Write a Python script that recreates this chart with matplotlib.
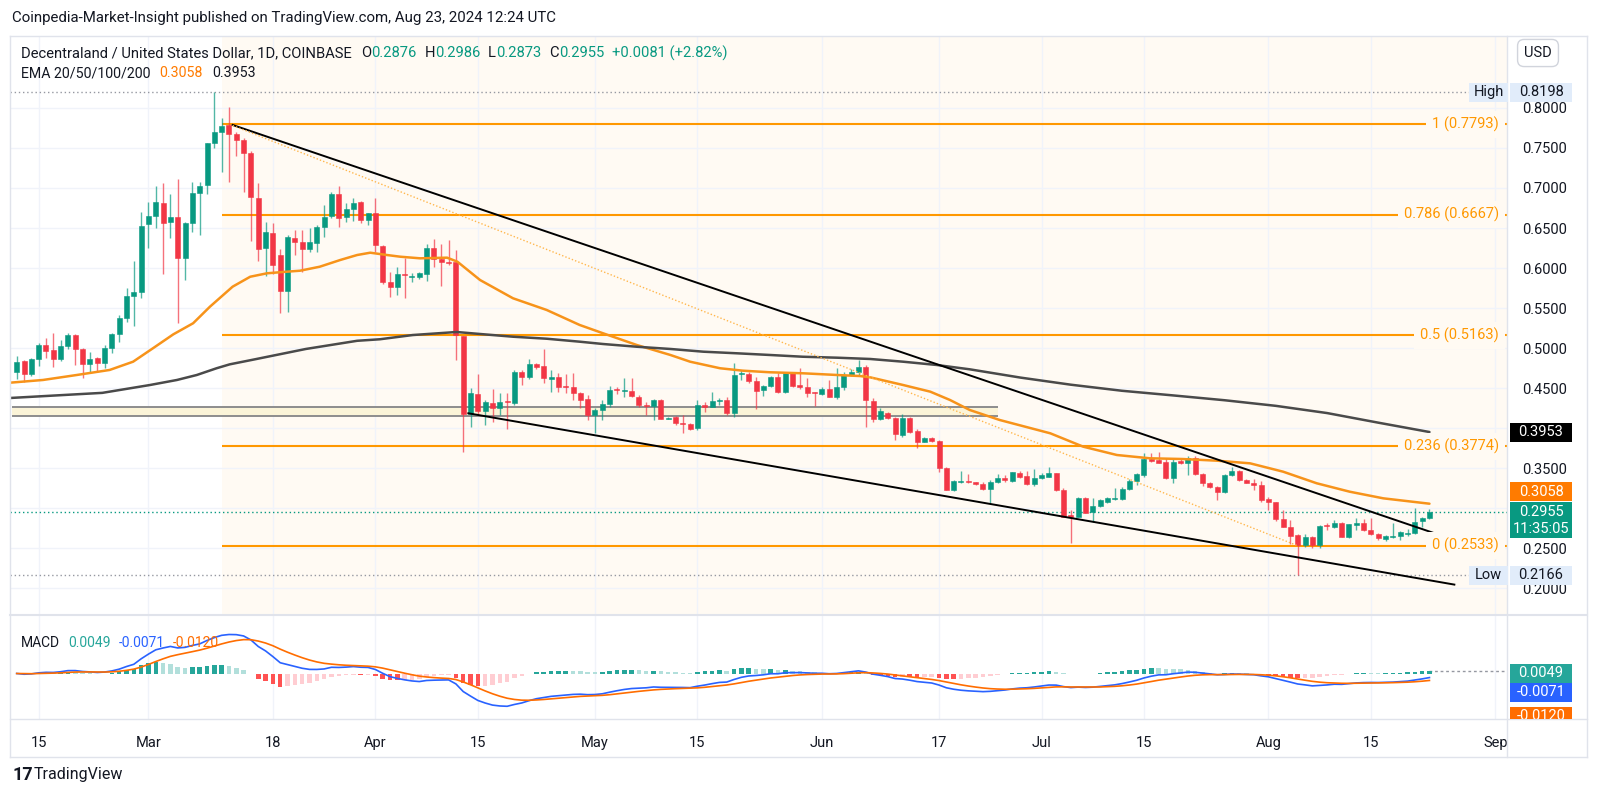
import numpy as np
import pandas as pd
import matplotlib
matplotlib.use("Agg")
import matplotlib.pyplot as plt
from matplotlib.patches import Rectangle
from matplotlib.transforms import Bbox

plt.rcParams['font.family'] = ['Roboto', 'DejaVu Sans']

############################
first_day = '2024-02-12'

opens = [0.4699, 0.4840, 0.4682, 0.4865, 0.5040, 0.4974, 0.4861, 0.5028, 0.5165, 0.4986,
         0.4799, 0.4874, 0.4811, 0.5007, 0.5173, 0.5373, 0.5652, 0.5706, 0.6546, 0.6650,
         0.6813, 0.6572, 0.6638, 0.6130, 0.6567, 0.6934, 0.7038, 0.7562, 0.7695, 0.7787,
         0.7670, 0.7595, 0.7433, 0.6879, 0.6255, 0.6434, 0.6164, 0.5718, 0.6372, 0.6330,
         0.6239, 0.6318, 0.6517, 0.6646, 0.6921, 0.6642, 0.6738, 0.6829, 0.6601, 0.6684,
         0.6276, 0.5831, 0.5760, 0.5915, 0.5890, 0.5884, 0.5926, 0.6246, 0.6109, 0.6071,
         0.6080, 0.5152, 0.4178, 0.4428, 0.4220, 0.4320, 0.4249, 0.4334, 0.4311, 0.4698,
         0.4636, 0.4802, 0.4781, 0.4611, 0.4636, 0.4527, 0.4519, 0.4445, 0.4362, 0.4166,
         0.4228, 0.4303, 0.4482, 0.4459, 0.4466, 0.4395, 0.4291, 0.4278, 0.4353, 0.4120,
         0.4137, 0.4066, 0.4049, 0.3999, 0.4291, 0.4270, 0.4343, 0.4353, 0.4195, 0.4682,
         0.4678, 0.4595, 0.4478, 0.4528, 0.4644, 0.4457, 0.4686, 0.4540, 0.4520, 0.4446,
         0.4428, 0.4486, 0.4395, 0.4520, 0.4665, 0.4707, 0.4761, 0.4340, 0.4116, 0.4195,
         0.4124, 0.3916, 0.4124, 0.3970, 0.3833, 0.3879, 0.3845, 0.3500, 0.3225, 0.3328,
         0.3330, 0.3325, 0.3304, 0.3242, 0.3325, 0.3383, 0.3341, 0.3445, 0.3404, 0.3304,
         0.3375, 0.3396, 0.3437, 0.3229, 0.2904, 0.2896, 0.3133, 0.2958, 0.3029, 0.3083,
         0.3121, 0.3112, 0.3237, 0.3341, 0.3416, 0.3612, 0.3604, 0.3574, 0.3375, 0.3590,
         0.3570, 0.3624, 0.3429, 0.3312, 0.3262, 0.3200, 0.3416, 0.3470, 0.3354, 0.3312,
         0.3291, 0.3112, 0.3083, 0.2863, 0.2771, 0.2667, 0.2538, 0.2638, 0.2538, 0.2781,
         0.2771, 0.2821, 0.2646, 0.2798, 0.2813, 0.2730, 0.2680, 0.2613, 0.2645, 0.2650,
         0.2685, 0.2688, 0.2846, 0.2876]
highs = [0.4907, 0.4849, 0.4882, 0.5065, 0.5123, 0.5186, 0.5098, 0.5190, 0.5173, 0.4998,
         0.4957, 0.4894, 0.5040, 0.5186, 0.5415, 0.5756, 0.6089, 0.6696, 0.6829, 0.7029,
         0.7063, 0.6929, 0.7112, 0.6570, 0.7079, 0.7079, 0.7562, 0.8198, 0.7870, 0.8016,
         0.7703, 0.7620, 0.7462, 0.7058, 0.6572, 0.6559, 0.6239, 0.6413, 0.6472, 0.6472,
         0.6505, 0.6538, 0.6788, 0.6954, 0.7029, 0.6809, 0.6871, 0.6838, 0.6692, 0.6871,
         0.6289, 0.5956, 0.6018, 0.6121, 0.5934, 0.5955, 0.6300, 0.6359, 0.6300, 0.6350,
         0.6225, 0.5152, 0.4498, 0.4677, 0.4353, 0.4486, 0.4436, 0.4444, 0.4727, 0.4727,
         0.4861, 0.4819, 0.4985, 0.4727, 0.4686, 0.4677, 0.4686, 0.4457, 0.4416, 0.4249,
         0.4353, 0.4528, 0.4520, 0.4624, 0.4624, 0.4416, 0.4332, 0.4362, 0.4362, 0.4145,
         0.4153, 0.4166, 0.4062, 0.4353, 0.4332, 0.4457, 0.4374, 0.4395, 0.4811, 0.4728,
         0.4707, 0.4645, 0.4541, 0.4653, 0.4686, 0.4707, 0.4707, 0.4748, 0.4623, 0.4457,
         0.4520, 0.4603, 0.4748, 0.4707, 0.4736, 0.4852, 0.4790, 0.4374, 0.4249, 0.4207,
         0.4145, 0.4178, 0.4137, 0.3987, 0.3895, 0.3895, 0.3854, 0.3521, 0.3354, 0.3470,
         0.3429, 0.3325, 0.3333, 0.3354, 0.3425, 0.3416, 0.3458, 0.3470, 0.3466, 0.3487,
         0.3445, 0.3512, 0.3445, 0.3250, 0.2979, 0.3146, 0.3137, 0.3125, 0.3121, 0.3137,
         0.3250, 0.3270, 0.3362, 0.3437, 0.3687, 0.3695, 0.3708, 0.3624, 0.3624, 0.3624,
         0.3653, 0.3653, 0.3445, 0.3333, 0.3279, 0.3424, 0.3520, 0.3479, 0.3362, 0.3362,
         0.3345, 0.3146, 0.3083, 0.2979, 0.2854, 0.2680, 0.2680, 0.2655, 0.2792, 0.2813,
         0.2854, 0.2834, 0.2804, 0.2875, 0.2863, 0.2875, 0.2696, 0.2663, 0.2821, 0.2713,
         0.2738, 0.3008, 0.2888, 0.2986]
lows = [0.4616, 0.4582, 0.4657, 0.4782, 0.4874, 0.4770, 0.4840, 0.4990, 0.4790, 0.4624,
        0.4707, 0.4707, 0.4749, 0.4936, 0.5082, 0.5323, 0.5281, 0.5623, 0.6255, 0.6505,
        0.5922, 0.6380, 0.5311, 0.5856, 0.6455, 0.6413, 0.6929, 0.7495, 0.7204, 0.7071,
        0.7404, 0.6954, 0.6338, 0.6093, 0.5906, 0.5922, 0.5435, 0.5456, 0.6164, 0.5947,
        0.6205, 0.6205, 0.6393, 0.6630, 0.6517, 0.6580, 0.6588, 0.6559, 0.6538, 0.6205,
        0.5798, 0.5643, 0.5664, 0.5622, 0.5830, 0.5859, 0.5843, 0.6017, 0.5776, 0.6038,
        0.4852, 0.3708, 0.4012, 0.4178, 0.4041, 0.4082, 0.4166, 0.3987, 0.4290, 0.4540,
        0.4611, 0.4736, 0.4569, 0.4457, 0.4457, 0.4436, 0.4353, 0.4249, 0.4104, 0.3937,
        0.4104, 0.4262, 0.4428, 0.4395, 0.4395, 0.4262, 0.4166, 0.4104, 0.4112, 0.4112,
        0.4041, 0.3937, 0.3979, 0.3979, 0.4208, 0.4262, 0.4291, 0.4166, 0.4145, 0.4603,
        0.4561, 0.4237, 0.4403, 0.4520, 0.4436, 0.4436, 0.4520, 0.4486, 0.4395, 0.4278,
        0.4415, 0.4386, 0.4361, 0.4478, 0.4653, 0.4665, 0.4020, 0.4082, 0.4103, 0.4116,
        0.3854, 0.3895, 0.3937, 0.3750, 0.3829, 0.3833, 0.3458, 0.3225, 0.3215, 0.3312,
        0.3312, 0.3292, 0.3229, 0.3071, 0.3312, 0.3333, 0.3325, 0.3375, 0.3292, 0.3279,
        0.3362, 0.3387, 0.3220, 0.2888, 0.2563, 0.2888, 0.2938, 0.2834, 0.3021, 0.3071,
        0.3104, 0.3104, 0.3229, 0.3291, 0.3396, 0.3583, 0.3562, 0.3362, 0.3320, 0.3550,
        0.3416, 0.3416, 0.3279, 0.3250, 0.3104, 0.3196, 0.3404, 0.3345, 0.3312, 0.3229,
        0.3083, 0.2980, 0.2846, 0.2763, 0.2555, 0.2166, 0.2521, 0.2500, 0.2500, 0.2730,
        0.2759, 0.2638, 0.2625, 0.2730, 0.2721, 0.2667, 0.2605, 0.2592, 0.2625, 0.2605,
        0.2655, 0.2680, 0.2771, 0.2873]
closes = [0.4832, 0.4674, 0.4865, 0.5040, 0.4969, 0.4865, 0.5032, 0.5165, 0.4986, 0.4799,
          0.4865, 0.4811, 0.5007, 0.5177, 0.5373, 0.5652, 0.5706, 0.6526, 0.6650, 0.6829,
          0.6559, 0.6638, 0.6130, 0.6567, 0.6938, 0.7029, 0.7562, 0.7695, 0.7778, 0.7670,
          0.7595, 0.7433, 0.6892, 0.6239, 0.6455, 0.6039, 0.5718, 0.6384, 0.6322, 0.6239,
          0.6330, 0.6517, 0.6642, 0.6921, 0.6630, 0.6738, 0.6817, 0.6601, 0.6684, 0.6289,
          0.5831, 0.5760, 0.5922, 0.5911, 0.5894, 0.5934, 0.6246, 0.6109, 0.6080, 0.6067,
          0.5164, 0.4178, 0.4444, 0.4220, 0.4332, 0.4249, 0.4332, 0.4330, 0.4698, 0.4636,
          0.4802, 0.4769, 0.4623, 0.4636, 0.4519, 0.4519, 0.4444, 0.4353, 0.4166, 0.4228,
          0.4303, 0.4478, 0.4474, 0.4463, 0.4403, 0.4291, 0.4278, 0.4353, 0.4116, 0.4125,
          0.4070, 0.4058, 0.3987, 0.4295, 0.4262, 0.4345, 0.4347, 0.4195, 0.4665, 0.4686,
          0.4595, 0.4470, 0.4528, 0.4644, 0.4457, 0.4686, 0.4532, 0.4520, 0.4444, 0.4440,
          0.4486, 0.4395, 0.4520, 0.4665, 0.4707, 0.4761, 0.4353, 0.4116, 0.4216, 0.4132,
          0.3928, 0.4124, 0.3958, 0.3833, 0.3883, 0.3845, 0.3500, 0.3229, 0.3338, 0.3333,
          0.3326, 0.3300, 0.3242, 0.3329, 0.3383, 0.3354, 0.3450, 0.3396, 0.3304, 0.3375,
          0.3416, 0.3437, 0.3229, 0.2896, 0.2898, 0.3133, 0.2946, 0.3029, 0.3104, 0.3125,
          0.3125, 0.3241, 0.3341, 0.3425, 0.3612, 0.3595, 0.3570, 0.3375, 0.3574, 0.3562,
          0.3624, 0.3429, 0.3312, 0.3262, 0.3208, 0.3416, 0.3470, 0.3354, 0.3320, 0.3291,
          0.3104, 0.3083, 0.2863, 0.2771, 0.2655, 0.2538, 0.2638, 0.2542, 0.2779, 0.2777,
          0.2821, 0.2646, 0.2800, 0.2802, 0.2730, 0.2680, 0.2625, 0.2655, 0.2650, 0.2700,
          0.2692, 0.2834, 0.2875, 0.2955]

# EMA lines (day offset from first_day, value)
ema20_days = [-0.9, 3.6, 8.2, 12.7, 15.9, 18.6, 21.4, 24.1, 26.4, 29.5, 31.9, 34.2, 36.9, 38.7,
              41.4, 44.2, 46.5, 48.3, 50.6, 52.4, 55.1, 58.8, 60.2, 63.3, 67.8, 72.4, 76.9,
              80.1, 84.7, 89.3, 92.0, 96.1, 99.2, 102.9, 107.5, 112.1, 115.2, 116.6, 121.1,
              124.8, 127.5, 130.2, 134.3, 141.2, 145.7, 150.3, 154.8, 159.3, 164.0, 168.5,
              173.0, 177.6, 182.1, 186.7, 193.0]
ema20_vals = [0.4569, 0.4603, 0.4665, 0.4728, 0.4831, 0.4998, 0.5173, 0.5311, 0.5518, 0.5768,
              0.5892, 0.5935, 0.5955, 0.5967, 0.6017, 0.6101, 0.6163, 0.6192, 0.6163, 0.6142,
              0.6122, 0.6130, 0.6080, 0.5851, 0.5623, 0.5477, 0.5290, 0.5186, 0.5040, 0.4915,
              0.4831, 0.4749, 0.4719, 0.4699, 0.4686, 0.4665, 0.4652, 0.4636, 0.4540, 0.4457,
              0.4353, 0.4228, 0.4103, 0.3937, 0.3770, 0.3666, 0.3625, 0.3616, 0.3595, 0.3562,
              0.3458, 0.3313, 0.3208, 0.3125, 0.3058]
ema200_days = [-0.9, 11.7, 18.2, 21.9, 24.6, 27.3, 29.1, 32.6, 39.5, 46.5, 49.6, 54.1, 60.1,
               63.3, 67.8, 72.4, 76.9, 80.1, 84.7, 89.3, 93.8, 98.4, 102.9, 107.4, 112.1,
               116.6, 121.1, 125.7, 130.2, 137.1, 144.0, 151.0, 158.0, 165.0, 172.0, 179.0,
               186.0, 193.0]
ema200_vals = [0.4378, 0.4442, 0.4540, 0.4603, 0.4665, 0.4749, 0.4798, 0.4862, 0.4990, 0.5092,
               0.5111, 0.5164, 0.5202, 0.5177, 0.5143, 0.5118, 0.5081, 0.5052, 0.5018, 0.4990,
               0.4956, 0.4936, 0.4915, 0.4893, 0.4881, 0.4865, 0.4831, 0.4790, 0.4736, 0.4633,
               0.4544, 0.4468, 0.4410, 0.4350, 0.4280, 0.4190, 0.4070, 0.3953]

fib_ratios = ['1', '0.786', '0.5', '0.236', '0']
fib_prices = [0.7793, 0.6667, 0.5163, 0.3774, 0.2533]
fib_start = 28.05

upper_days, upper_prices = [29.5, 202.0], [0.7787, 0.2431]
lower_days, lower_prices = [61.7, 196.4], [0.4187, 0.2048]
guide_days, guide_prices = [29.5, 175.0], [0.7780, 0.2533]
zone_days, zone_prices = [-0.6, 134.0], [0.4153, 0.4269]

high_price, low_price = 0.8198, 0.2166
last_price, ema20_last, ema200_last = 0.2955, 0.3058, 0.3953
macd_legend = ['0.0049', '-0.0071', '-0.0120']

tick_dates = ['2024-02-15', '2024-03-01', '2024-03-18', '2024-04-01', '2024-04-15',
              '2024-05-01', '2024-05-15', '2024-06-01', '2024-06-17', '2024-07-01',
              '2024-07-15', '2024-08-01', '2024-08-15', '2024-09-01']
tick_text = ['15', 'Mar', '18', 'Apr', '15', 'May', '15', 'Jun', '17', 'Jul', '15', 'Aug', '15', 'Sep']
price_ticks = [0.20, 0.25, 0.30, 0.35, 0.40, 0.45, 0.50, 0.55, 0.60, 0.65, 0.70, 0.75, 0.80]
hidden_ticks = [0.30, 0.40]      # covered by the EMA tags on the price scale
############################

W, H = 1600, 796
X0_PX, DAY_PX = 16.7, 7.32           # first candle x, pixels per day
Y_REF_PX, Y_REF, PX_PER_UNIT = 107.9, 0.80, 800.9

GREEN, RED = '#089981', '#f23645'
ORANGE = '#ff9800'
TXT = '#131722'
GRID = '#f0f3fa'
BORDER = '#e0e3eb'
BEIGE = '#fffaf3'

n = len(closes)
x = np.arange(n)
o, h, l, c = (np.array(v) for v in (opens, highs, lows, closes))
tick_idx = [(pd.Timestamp(d) - pd.Timestamp(first_day)).days for d in tick_dates]

fig = plt.figure(figsize=(W / 100, H / 100), dpi=100)
fig.patch.set_facecolor('white')


def rect(x0, y0, x1, y1):
    return [x0 / W, 1 - y1 / H, (x1 - x0) / W, (y1 - y0) / H]


ax = fig.add_axes(rect(10, 36, 1507, 615))
axm = fig.add_axes(rect(10, 615, 1507, 719))
xlim = ((10 - X0_PX) / DAY_PX, (1507 - X0_PX) / DAY_PX)
for a in (ax, axm):
    a.set_xlim(*xlim)
    for s in a.spines.values():
        s.set_visible(False)
    a.set_xticks(tick_idx)
    a.grid(axis='x', color=GRID, lw=1)
    a.set_axisbelow(True)
ax.set_ylim(Y_REF - (615 - Y_REF_PX) / PX_PER_UNIT, Y_REF + (Y_REF_PX - 36) / PX_PER_UNIT)

# price axis
ax.yaxis.tick_right()
ax.set_yticks(price_ticks)
ax.set_yticklabels(['' if any(abs(t - ht) < 1e-9 for ht in hidden_ticks) else f'{t:.4f}'
                    for t in price_ticks])
ax.tick_params(axis='y', length=0, pad=11, labelsize=10.5, labelcolor=TXT)
ax.tick_params(axis='x', length=0, labelbottom=False)
ax.grid(axis='y', color=GRID, lw=1)

# drawings
ax.axvspan(fib_start, xlim[1], color=BEIGE, lw=0, zorder=0)
ax.fill_between(zone_days, zone_prices[0], zone_prices[1], color='#fbf4d8', lw=0, zorder=1)
ax.hlines(zone_prices, zone_days[0], zone_days[1], color='#8d8d8d', lw=1.4, zorder=1.1)
ax.hlines(fib_prices, fib_start, xlim[1], color=ORANGE, lw=1.5, zorder=2)
for r, p in zip(fib_ratios, fib_prices):
    ax.text(0.9947, p, f'{r} ({p:.4f})', transform=ax.get_yaxis_transform(), ha='right', va='center',
            color=ORANGE, fontsize=10.5, zorder=7,
            bbox=dict(boxstyle='square,pad=0.4', fc=BEIGE, ec='none'))
ax.axhline(high_price, color='#9598a1', lw=1, ls=(0, (1, 2)), zorder=1.5)
ax.axhline(low_price, color='#9598a1', lw=1, ls=(0, (1, 2)), zorder=1.5)
ax.axhline(last_price, color=GREEN, lw=1, ls=(0, (1, 2)), zorder=1.5)

# candles
col = np.where(c >= o, GREEN, RED)
ax.vlines(x, l, h, colors=col, lw=1, alpha=0.7, zorder=3)
ax.bar(x, np.maximum(np.abs(c - o), 0.0013), bottom=np.minimum(o, c), width=0.68,
       color=col, edgecolor=col, lw=0.4, zorder=4)

ax.plot(ema20_days, ema20_vals, color='#f7931a', lw=1.8, zorder=5, solid_capstyle='round')
ax.plot(ema200_days, ema200_vals, color='#4a4a4a', lw=1.8, zorder=5, solid_capstyle='round')
ax.plot(upper_days, upper_prices, color='black', lw=1.4, zorder=6)
ax.plot(lower_days, lower_prices, color='black', lw=1.4, zorder=6)
ax.plot(guide_days, guide_prices, color='#ffb74d', lw=1, ls=(0, (1, 1.5)), zorder=6)

# MACD 12 26 9 from closes
cs = pd.Series(c)
macd = cs.ewm(span=12, adjust=False).mean() - cs.ewm(span=26, adjust=False).mean()
signal = macd.ewm(span=9, adjust=False).mean()
hist = (macd - signal).values
prev = np.r_[hist[0], hist[:-1]]
hcol = np.where(hist >= 0, np.where(hist >= prev, '#26a69a', '#b2dfdb'),
                np.where(hist < prev, '#ff5252', '#ffcdd2'))
axm.bar(x, hist, width=0.62, color=hcol, lw=0, zorder=2)
axm.plot(x, macd, color='#2962ff', lw=1.2, zorder=3)
axm.plot(x, signal, color='#ff6d00', lw=1.2, zorder=3)
axm.hlines(hist[-1], n - 1, xlim[1], colors='#9598a1', linestyles=(0, (2, 2)), lw=1, zorder=1)
k = 39 / macd.max()
axm.set_ylim(-(719 - 673.5) / k, (673.5 - 615) / k)
axm.set_yticks([])
axm.set_xticks(tick_idx, tick_text)
axm.tick_params(axis='x', length=0, pad=12, labelsize=10.5, labelcolor=TXT)


# frame
def fline(x0, y0, x1, y1, lw=1, color=BORDER):
    fig.add_artist(plt.Line2D([x0 / W, x1 / W], [1 - y0 / H, 1 - y1 / H], transform=fig.transFigure,
                              color=color, lw=lw))


fline(10, 36, 1587, 36)
fline(10, 757, 1587, 757)
fline(10, 36, 10, 757)
fline(1587, 36, 1587, 757)
fline(1507, 36, 1507, 757)
fline(10, 615, 1587, 615, lw=1.5)
fline(10, 719, 1587, 719)


# axis tags
def tag(a, value, s, fc, tc, dy=0, x0=1510, x1=1572, hgt=19):
    ypx = a.transData.transform((0, value))[1] + dy
    fig.add_artist(Rectangle((x0 / W, (ypx - hgt / 2) / H), (x1 - x0) / W, hgt / H,
                             transform=fig.transFigure, fc=fc, ec='none', zorder=10))
    fig.text((x0 + x1) / 2 / W, ypx / H, s, ha='center', va='center', color=tc,
             fontsize=10.5, zorder=11)


TAGBLUE = '#e1ecfa'
tag(ax, high_price, 'High', TAGBLUE, TXT, x0=1469, x1=1508)
tag(ax, high_price, f'{high_price:.4f}', TAGBLUE, TXT)
tag(ax, low_price, 'Low', TAGBLUE, TXT, x0=1469, x1=1508)
tag(ax, low_price, f'{low_price:.4f}', TAGBLUE, TXT)
tag(ax, ema200_last, f'{ema200_last:.4f}', '#000000', 'white')
tag(ax, ema20_last, f'{ema20_last:.4f}', '#ff7b00', 'white', dy=12)
ylast = ax.transData.transform((0, last_price))[1]
fig.add_artist(Rectangle((1510 / W, (ylast - 26) / H), 62 / W, 36 / H, transform=fig.transFigure,
                         fc=GREEN, ec='none', zorder=10))
fig.text(1541 / W, ylast / H, f'{last_price:.4f}', ha='center', va='center', color='white',
         fontsize=10.5, zorder=11)
fig.text(1541 / W, (ylast - 17) / H, '11:35:05', ha='center', va='center', color='white',
         fontsize=10.5, zorder=11)

clipbox = Bbox.from_extents(0, H - 719, W, H)
for yy, s, fc in zip([673, 692, 716], macd_legend, ['#26a69a', '#2962ff', '#ff6d00']):
    ypx = H - yy
    r = Rectangle((1510 / W, (ypx - 9.5) / H), 62 / W, 19 / H, transform=fig.transFigure,
                  fc=fc, ec='none', zorder=10)
    t = fig.text(1541 / W, ypx / H, s, ha='center', va='center', color='white', fontsize=10.5, zorder=11)
    for art in (r, t):
        art.set_clip_box(clipbox)
        art.set_clip_on(True)
    fig.add_artist(r)

# texts
renderer = fig.canvas.get_renderer()


def put_row(pieces, x_px, y_px, size):
    xx = x_px
    for s, color, gap in pieces:
        xx += gap
        t = fig.text(xx / W, 1 - y_px / H, s, color=color, fontsize=size, va='center', ha='left')
        xx += t.get_window_extent(renderer=renderer).width


fig.text(12 / W, 1 - 18 / H, 'Coinpedia-Market-Insight published on TradingView.com, Aug 23, 2024 12:24 UTC',
         fontsize=10.8, color=TXT, va='center')
put_row([('Decentraland / United States Dollar, 1D, COINBASE', TXT, 0),
         ('O', TXT, 9), ('0.2876', GREEN, 0), ('H', TXT, 8), ('0.2986', GREEN, 0),
         ('L', TXT, 8), ('0.2873', GREEN, 0), ('C', TXT, 8), ('0.2955', GREEN, 0),
         ('+0.0081 (+2.82%)', GREEN, 8)], 21, 53, 10.6)
put_row([('EMA 20/50/100/200', TXT, 0), ('0.3058', '#ff7b00', 9), ('0.3953', TXT, 9)], 21, 73, 10.2)
put_row([('MACD', TXT, 0), (macd_legend[0], '#26a69a', 8), (macd_legend[1], '#2962ff', 8),
         (macd_legend[2], '#ff6d00', 8)], 21, 643, 10)

fig.text(1538 / W, 1 - 53 / H, 'USD', ha='center', va='center', fontsize=10.5, color=TXT,
         bbox=dict(boxstyle='round,pad=0.45', fc='white', ec='#d1d4dc', lw=1))
fig.text(12 / W, 1 - 775 / H, '17', fontsize=13, fontweight='bold', color=TXT, va='center')
fig.text(34 / W, 1 - 775 / H, 'TradingView', fontsize=11.5, color=TXT, va='center')

fig.savefig('out.png', dpi=100)
